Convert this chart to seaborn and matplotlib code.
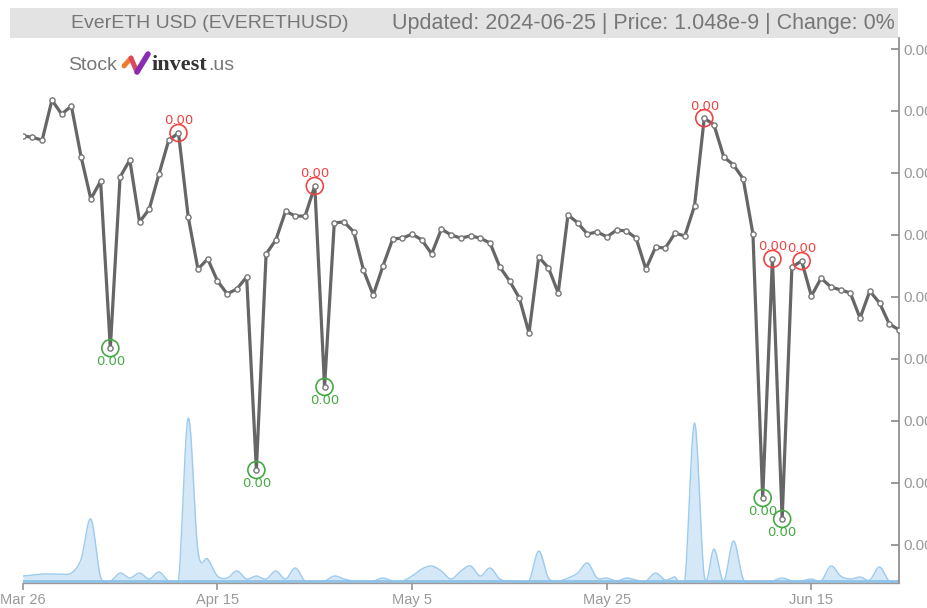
import numpy as np
import pandas as pd
import matplotlib
matplotlib.use("Agg")
import matplotlib.pyplot as plt
import matplotlib.dates as mdates
from matplotlib.ticker import FuncFormatter, FixedLocator
import seaborn as sns

# ---------------- data ----------------
start_date = "2024-03-26"
n_days = 91
# price in units of 1e-9 USD
price = [1.1120, 1.1115, 1.1106, 1.1235, 1.1190, 1.1216, 1.1052, 1.0916, 1.0974, 1.0435,
         1.0987, 1.1042, 1.0842, 1.0884, 1.0997, 1.1106, 1.1129, 1.0858, 1.0690, 1.0723,
         1.0652, 1.0610, 1.0626, 1.0665, 1.0042, 1.0739, 1.0784, 1.0877, 1.0861, 1.0861,
         1.0958, 1.0310, 1.0839, 1.0842, 1.0810, 1.0687, 1.0606, 1.0700, 1.0787, 1.0790,
         1.0803, 1.0784, 1.0739, 1.0819, 1.0800, 1.0790, 1.0797, 1.0790, 1.0774, 1.0697,
         1.0652, 1.0597, 1.0484, 1.0729, 1.0694, 1.0613, 1.0865, 1.0839, 1.0803, 1.0810,
         1.0794, 1.0816, 1.0813, 1.0790, 1.0690, 1.0761, 1.0758, 1.0806, 1.0797, 1.0894,
         1.1177, 1.1155, 1.1052, 1.1026, 1.0981, 1.0803, 0.9952, 1.0723, 0.9884, 1.0697,
         1.0716, 1.0603, 1.0661, 1.0632, 1.0623, 1.0613, 1.0532, 1.0619, 1.0581, 1.0513,
         1.0494]
volume = [5, 6, 7, 7, 7, 8, 22, 62, 4, 0,
          8, 3, 8, 2, 9, 0, 0, 163, 30, 22,
          5, 3, 10, 2, 5, 2, 10, 2, 13, 0,
          0, 0, 5, 2, 0, 0, 0, 3, 0, 0,
          5, 12, 15, 10, 2, 10, 15, 5, 13, 2,
          0, 0, 0, 30, 3, 0, 3, 8, 18, 3,
          3, 0, 3, 1, 0, 8, 1, 4, 0, 158,
          5, 32, 0, 40, 2, 0, 0, 0, 3, 0,
          0, 2, 0, 15, 5, 2, 4, 1, 14, 0,
          0]
high_idx = [16, 30, 70, 77, 80]
low_idx = [9, 24, 31, 76, 78]
y_ticks = [0.98, 1.00, 1.02, 1.04, 1.06, 1.08, 1.10, 1.12, 1.14]
x_tick_dates = ["2024-03-26", "2024-04-15", "2024-05-05", "2024-05-25", "2024-06-15"]
x_tick_labels = ["Mar 26", "Apr 15", "May 5", "May 25", "Jun 15"]
title_left = "EverETH USD (EVERETHUSD)"
title_right = "Updated: 2024-06-25 | Price: 1.048e-9 | Change: 0%"

dates = pd.date_range(start_date, periods=n_days, freq="D")
df = pd.DataFrame({"date": dates, "price": price, "volume": volume})

# ---------------- style ----------------
sns.set_theme(style="white")
plt.rcParams["font.family"] = ["Liberation Sans", "DejaVu Sans"]

W, H = 928, 608
fig = plt.figure(figsize=(W / 100, H / 100), dpi=100)
ax_l, ax_r, ax_t, ax_b = 22.7, 899, 38, 583
rect = [ax_l / W, 1 - ax_b / H, (ax_r - ax_l) / W, (ax_b - ax_t) / H]

# volume axis (behind)
axv = fig.add_axes(rect)
xnum = mdates.date2num(df["date"])
v = np.array(volume, dtype=float)
# Catmull-Rom smoothing for drawing
pts_x, pts_y = [], []
vp = np.concatenate([[v[0]], v, [v[-1]]])
t = np.linspace(0, 1, 12, endpoint=False)
for i in range(len(v) - 1):
    p0, p1, p2, p3 = vp[i], vp[i + 1], vp[i + 2], vp[i + 3]
    yy = 0.5 * (2 * p1 + (-p0 + p2) * t + (2 * p0 - 5 * p1 + 4 * p2 - p3) * t ** 2
                + (-p0 + 3 * p1 - 3 * p2 + p3) * t ** 3)
    pts_x.extend(xnum[i] + t * (xnum[i + 1] - xnum[i]))
    pts_y.extend(yy)
pts_x.append(xnum[-1]); pts_y.append(v[-1])
pts_x = np.array(pts_x); pts_y = np.array(pts_y)
axv.fill_between(pts_x, 0, pts_y, color="#d3e7f8", alpha=0.95, lw=0)
axv.plot(pts_x, pts_y, color="#9ccbee", lw=1.0)
axv.axhline(0, color="#8fc3ea", lw=2)
axv.set_ylim(-2, 543)
axv.set_xlim(xnum[0], xnum[-1])
axv.axis("off")

# price axis
ax = fig.add_axes(rect)
ax.patch.set_alpha(0)
sns.lineplot(data=df, x="date", y="price", ax=ax, color="#666666", lw=2.3, zorder=3)
ax.scatter(df["date"], df["price"], s=14, facecolor="white", edgecolor="#777777",
           linewidth=1.0, zorder=4)
hi = df.iloc[high_idx]
lo = df.iloc[low_idx]
ax.scatter(hi["date"], hi["price"], s=150, facecolor="none", edgecolor="#ee4444",
           linewidth=1.2, zorder=5)
ax.scatter(lo["date"], lo["price"], s=150, facecolor="none", edgecolor="#44aa44",
           linewidth=1.2, zorder=5)
for d, p in zip(hi["date"], hi["price"]):
    ax.annotate("0.00", (d, p), xytext=(0, 4), textcoords="offset points",
                ha="center", va="bottom", color="#ee4444", fontsize=9.5,
                family=["DejaVu Sans"])
for d, p in zip(lo["date"], lo["price"]):
    ax.annotate("0.00", (d, p), xytext=(0, -5), textcoords="offset points",
                ha="center", va="top", color="#44aa44", fontsize=9.5,
                family=["DejaVu Sans"])

ax.set_xlim(dates[0], dates[-1])
ylo = 1.06 - (ax_b - 297) * 0.02 / 62
yhi = 1.06 + (297 - ax_t) * 0.02 / 62
ax.set_ylim(ylo, yhi)
ax.yaxis.tick_right()
ax.yaxis.set_major_locator(FixedLocator(y_ticks))
ax.yaxis.set_major_formatter(FuncFormatter(lambda val, pos: f"{val * 1e-9:.2f}"))
ax.set_xticks(pd.to_datetime(x_tick_dates))
ax.set_xticklabels(x_tick_labels)
ax.set_xlabel("")
ax.set_ylabel("")
for s in ["left", "top"]:
    ax.spines[s].set_visible(False)
ax.spines["right"].set_color("#888888")
ax.spines["right"].set_linewidth(1.2)
ax.spines["bottom"].set_color("#999999")
ax.spines["bottom"].set_linewidth(1.0)
ax.tick_params(axis="y", which="both", right=True, direction="in", length=6,
               color="#888888", labelcolor="#999999", labelsize=11, pad=3, width=1.2)
ax.tick_params(axis="x", bottom=True, direction="out", length=5, color="#999999",
               labelcolor="#999999", labelsize=10.5, pad=2)
ax.grid(False)

# ---------------- title bar ----------------
fig.patches.append(plt.Rectangle((10 / W, 1 - 38 / H), (898 - 10) / W, 30 / H,
                                 transform=fig.transFigure, facecolor="#e3e3e3",
                                 edgecolor="none", zorder=0))
fig.text(210 / W, 1 - 23 / H, title_left, ha="center", va="center",
         fontsize=14, color="#777777")
fig.text(895 / W, 1 - 23 / H, title_right, ha="right", va="center",
         fontsize=15.5, color="#777777")

# ---------------- logo ----------------
fig.text(68 / W, 1 - 65 / H, "Stock", ha="left", va="center", fontsize=14,
         color="#777777")
lx = np.array([124, 131, 137, 148]) / W
ly = 1 - np.array([66, 58, 72, 54]) / H
fig.add_artist(plt.Line2D(lx[:2], ly[:2], transform=fig.transFigure, color="#f07a2a", lw=3.5))
fig.add_artist(plt.Line2D(lx[1:3], ly[1:3], transform=fig.transFigure, color="#e0465a", lw=3.5))
fig.add_artist(plt.Line2D(lx[2:], ly[2:], transform=fig.transFigure, color="#8a2bb0", lw=4))
inv = fig.text(152 / W, 1 - 65 / H, "invest", ha="left", va="center", fontsize=16,
               color="#333333", fontweight="bold", family=["Liberation Serif", "DejaVu Serif"])
fig.canvas.draw()
bb = inv.get_window_extent()
fig.text((bb.x1 + 1) / W, 1 - 65 / H, ".us", ha="left", va="center", fontsize=14,
         color="#777777")

fig.savefig("out.png", dpi=100)
